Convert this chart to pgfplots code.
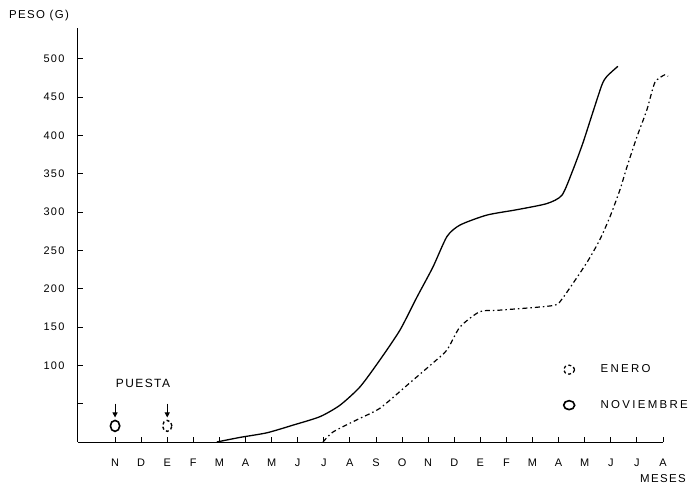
\documentclass[border=0pt]{standalone}
\usepackage{fontspec}
\setmainfont{Liberation Sans}
\newfontfamily\lab[LetterSpace=12]{Liberation Sans}
\newfontfamily\leg[LetterSpace=20]{Liberation Sans}
\usepackage{pgfplots}
\pgfplotsset{compat=1.18}
\usetikzlibrary{arrows.meta}

% crecimiento (peso en g) segun mes de puesta; x = meses desde N
\pgfplotstableread{
x      y
3.90   0
4.79   6
5.82   12
6.82   22
7.85   33
8.62   48
9.39   72
10.15  107
10.92  146
11.57  189
12.18  228
12.72  268
13.22  283
14.25  296
15.40  303
16.55  311
17.13  322
17.55  355
17.93  390
18.31  430
18.66  466
18.85  477
19.27  490
}\noviembre

\pgfplotstableread{
x      y
7.97   0
8.35   13
9.27   29
10.15  44
11.19  74
12.18  103
12.72  120
13.22  150
13.98  170
14.75  172
16.78  178
17.16  188
18.08  234
18.58  264
18.97  294
19.35  329
19.62  359
20.00  398
20.38  433
20.69  469
21.07  479
21.19  477
}\enero

\begin{document}
\begin{tikzpicture}
\begin{axis}[
    scale only axis,
    width=585bp, height=414bp,
    xmin=-1.42, xmax=21, ymin=0, ymax=540,
    axis lines=left,
    axis line style={-, line width=1bp},
    clip=false,
    tick align=inside,
    major tick length=5bp,
    tick style={black, line width=0.9bp},
    xtick={0,...,21},
    xticklabels={N,D,E,F,M,A,M,J,J,A,S,O,N,D,E,F,M,A,M,J,J,A},
    ytick={50,100,...,500},
    yticklabels={,100,150,200,250,300,350,400,450,500},
    /pgf/number format/assume math mode=true,
    tick label style={font=\lab\fontsize{11}{12}\selectfont},
    xticklabel style={yshift=-13bp},
    yticklabel style={xshift=-10bp},
    xlabel={MESES}, ylabel={PESO (G)},
    every axis x label/.style={at={(rel axis cs:1,0)}, anchor=center,
      yshift=-37bp, font=\lab\fontsize{11.5}{12}\selectfont},
    every axis y label/.style={at={(rel axis cs:0,1)}, anchor=center,
      xshift=-39bp, yshift=12bp, font=\lab\fontsize{11.5}{12}\selectfont},
    legend style={at={(axis cs:17.04,106)}, anchor=north west, draw=none,
      fill=none, font=\leg\fontsize{11.5}{12}\selectfont,
      row sep=22bp, cells={anchor=west}},
    legend image code/.code={\path[draw=none] (0,0) -- (34bp,0);
      \draw[#1] (4.5bp,0bp) circle[x radius=5.5bp, y radius=4.5bp];},
  ]
\addplot[black, line width=1.3bp, smooth, tension=0.4, forget plot] table {\noviembre};
\addplot[black, line width=1.2bp, smooth, tension=0.4, forget plot,
  dash pattern=on 5bp off 3bp on 1.5bp off 3bp] table {\enero};

% huevos en la fecha de puesta
\addplot[only marks, mark=*, mark size=5.5bp, forget plot,
  mark options={draw=black, fill=white, line width=1.6bp, xscale=0.85}]
  coordinates {(0,21)};
\addplot[only marks, mark=*, mark size=5.5bp, forget plot,
  mark options={draw=black, fill=white, line width=1.4bp, xscale=0.85,
    dash pattern=on 3bp off 2.5bp}]
  coordinates {(2,21)};
\draw[-{Triangle[length=5bp,width=5bp]}, line width=1bp] (axis cs:0,50) -- (axis cs:0,32);
\draw[-{Triangle[length=5bp,width=5bp]}, line width=1bp] (axis cs:2,50) -- (axis cs:2,32);
\node[font=\lab\fontsize{12}{13}\selectfont] at (axis cs:1.07,76) {PUESTA};

\addlegendimage{black, line width=1.3bp, dash pattern=on 3bp off 2.5bp}
\addlegendimage{black, line width=1.6bp}
\legend{ENERO, NOVIEMBRE}

\path (rel axis cs:0,0) ++(-78bp,-52bp) rectangle ++(693bp,494bp);
\end{axis}
\end{tikzpicture}
\end{document}
